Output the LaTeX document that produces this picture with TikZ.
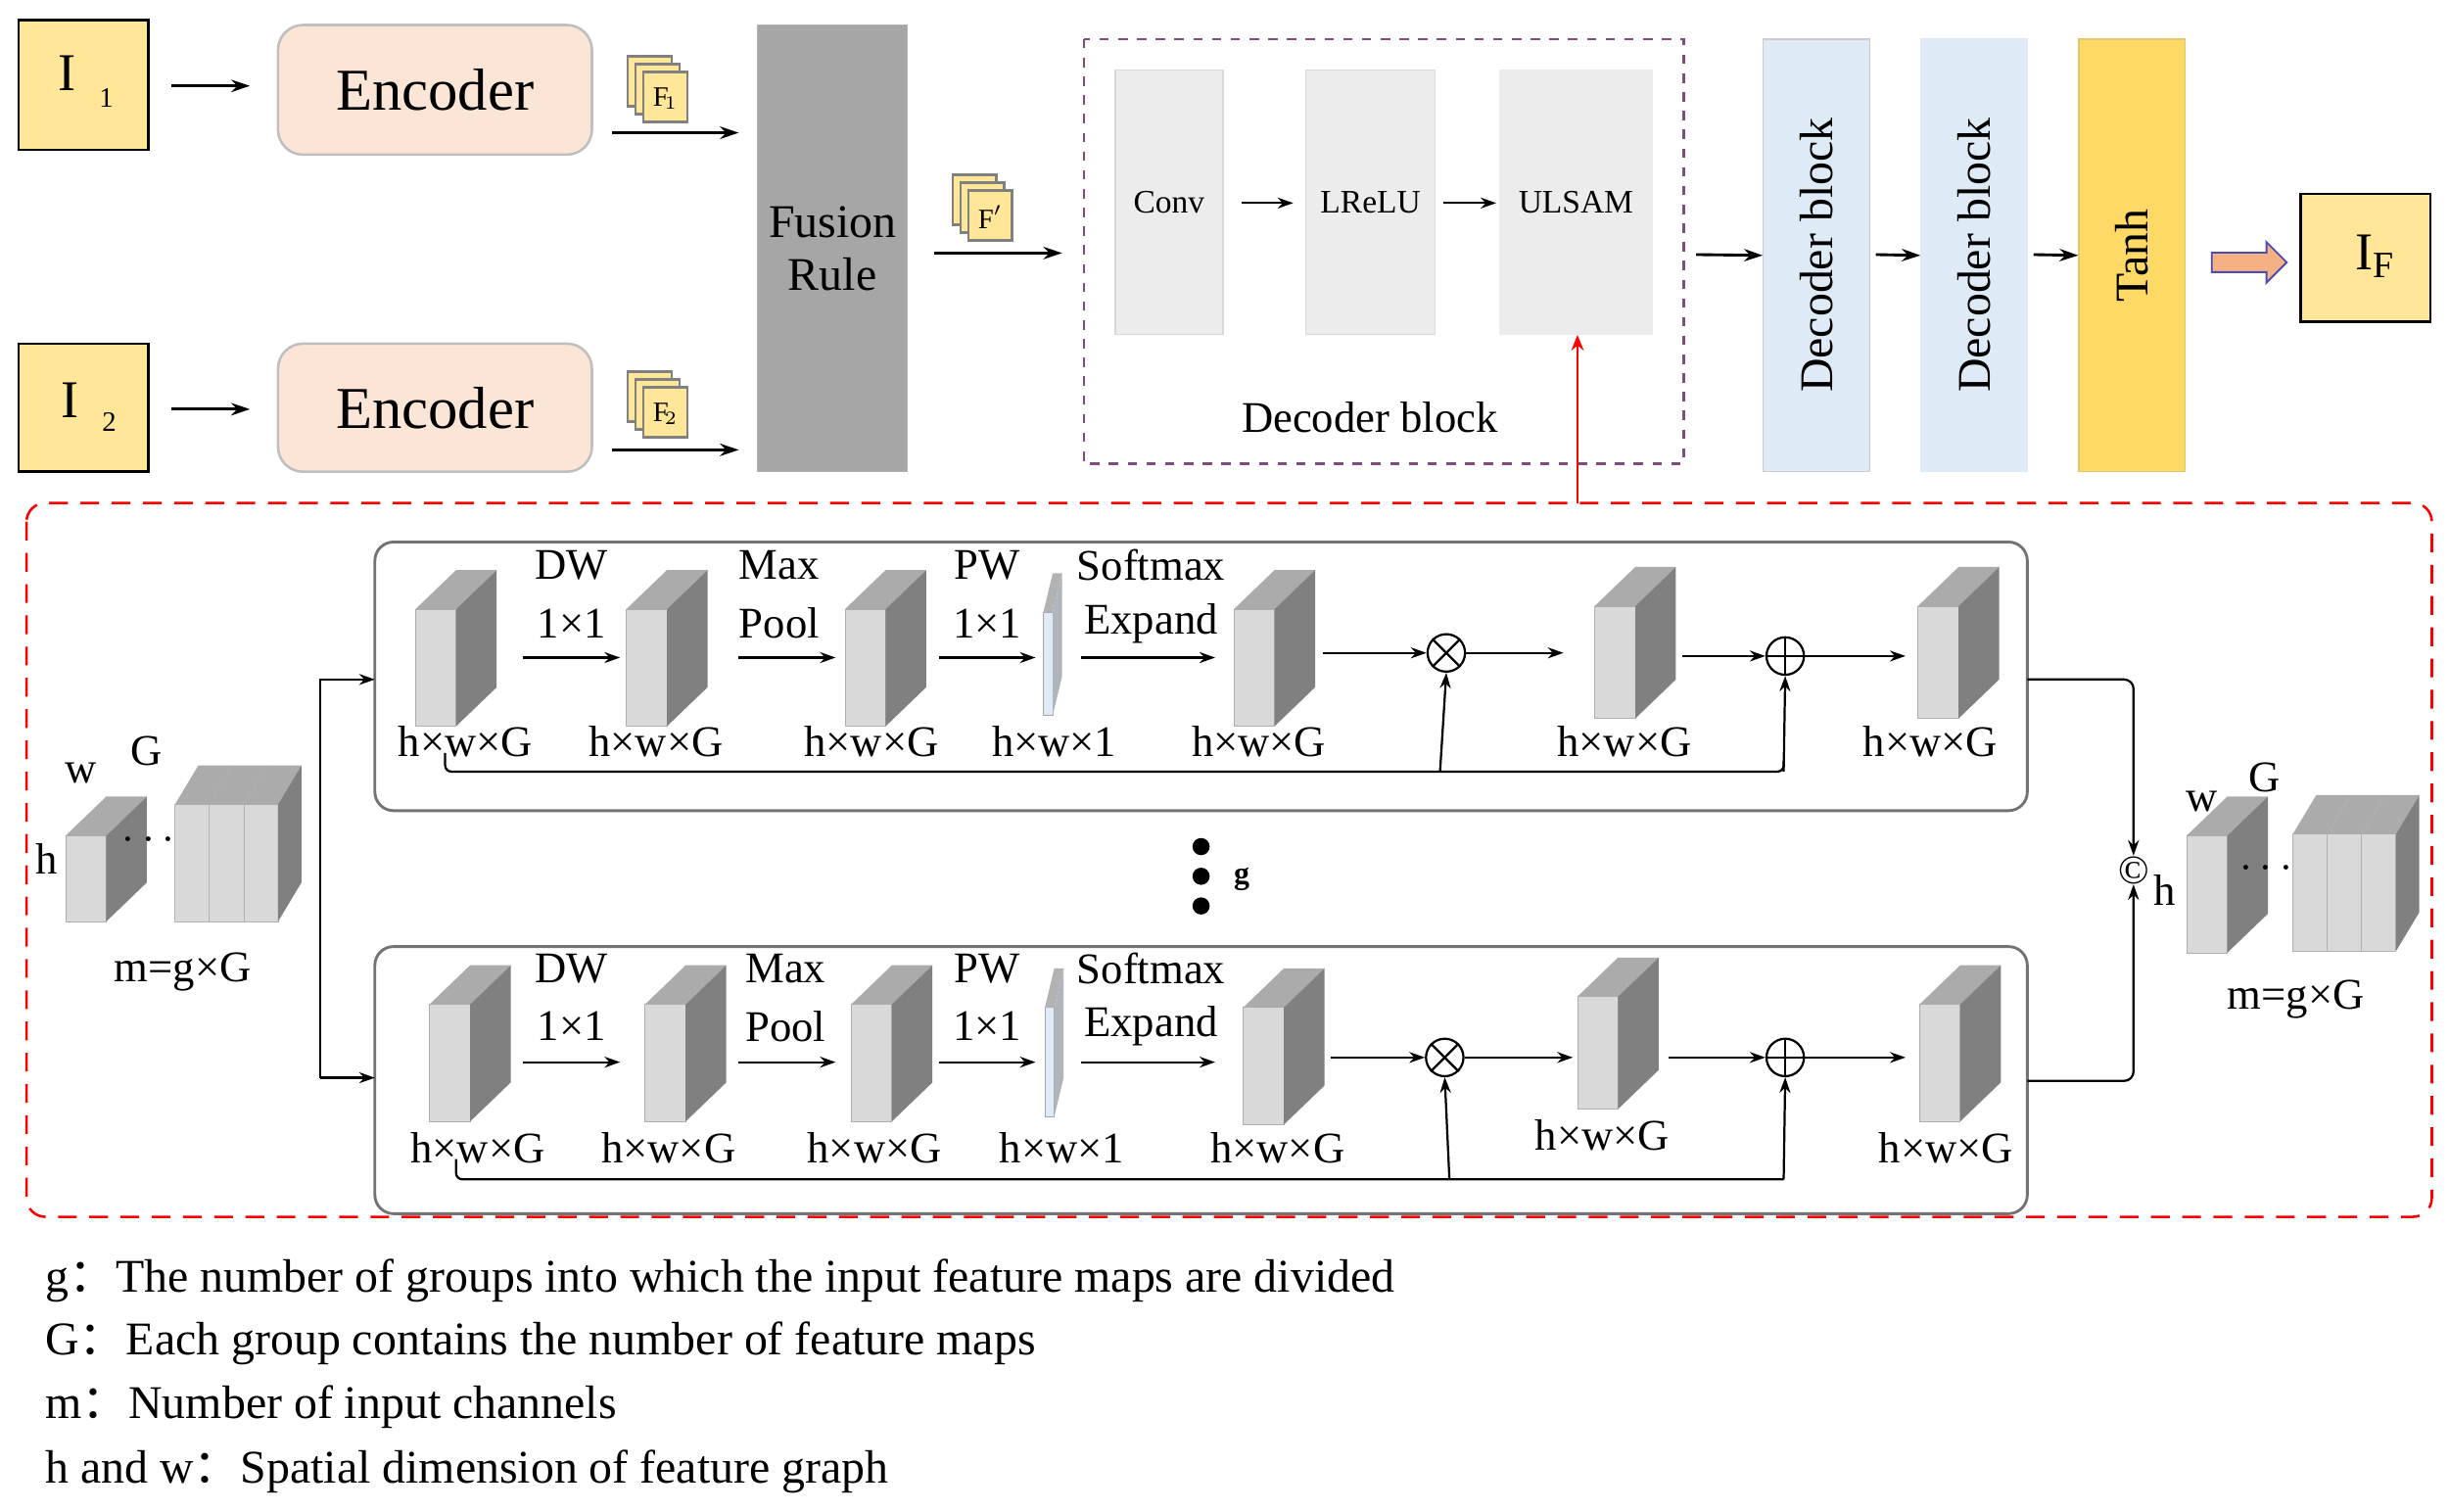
\documentclass[tikz,border=0pt]{standalone}
\usepackage{fontspec}
\setmainfont{Liberation Serif}
\newfontfamily\cjk{Noto Sans CJK SC}
\usetikzlibrary{arrows.meta,shapes.arrows}
\definecolor{inyel}{HTML}{FFE699}
\definecolor{encf}{HTML}{FBE5D6}
\definecolor{fus}{HTML}{A6A6A6}
\definecolor{decb}{HTML}{DEEBF7}
\definecolor{tanh}{HTML}{FFD966}
\definecolor{cf}{HTML}{D9D9D9}
\definecolor{cs}{HTML}{808080}
\definecolor{ct}{HTML}{ABABAB}
\definecolor{orar}{HTML}{F4B183}
\newcommand\mycube[6]{%
 \fill[cf,draw=cf!80!black,very thin] (#1,#2) rectangle (#1+#3,#2+#4);
 \fill[ct] (#1,#2) -- (#1+#5,#2-#6) -- (#1+#3+#5,#2-#6) -- (#1+#3,#2) -- cycle;
 \fill[cs] (#1+#3,#2) -- (#1+#3+#5,#2-#6) -- (#1+#3+#5,#2+#4-#6) -- (#1+#3,#2+#4) -- cycle;}
\newcommand\thincube[6]{%
 \fill[decb,draw=gray!70,very thin] (#1,#2) rectangle (#1+#3,#2+#4);
 \fill[gray!60] (#1,#2) -- (#1+#5,#2-#6) -- (#1+#3+#5,#2-#6) -- (#1+#3,#2) -- cycle;
 \fill[gray!50!decb] (#1+#3,#2) -- (#1+#3+#5,#2-#6) -- (#1+#3+#5,#2+#4-#6) -- (#1+#3,#2+#4) -- cycle;}
\newcommand\ficon[3]{%
 \foreach \k in {0,1,2}{\draw[gray,fill=inyel,line width=0.8pt] (#1+5*\k,#2+5*\k) rectangle ++(28,32);}
 \node[font=\fontsize{9}{9}\selectfont] at (#1+24,#2+27) {#3};}
\newcommand\stack[2]{%
 \foreach \k in {0,1,2}{\fill[cf,draw=gray!60,very thin] (#1+22*\k,#2) rectangle ++(22,75);}
 \fill[ct] (#1,#2) -- (#1+15,#2-25) -- (#1+81,#2-25) -- (#1+66,#2) -- cycle;
 \foreach \k in {1,2}{\draw[gray!60,very thin] (#1+22*\k,#2) -- ++(15,-25);}
 \fill[cs] (#1+66,#2) -- (#1+81,#2-25) -- (#1+81,#2+50) -- (#1+66,#2+75) -- cycle;}
\tikzset{x=0.5pt,y=-0.5pt,
 arr/.style={-{Stealth[length=6pt,width=4pt]},line width=0.9pt},
 sarr/.style={-{Stealth[length=5pt,width=3.5pt]},line width=0.7pt},
 big/.style={font=\fontsize{19}{21}\selectfont},
 lab/.style={font=\fontsize{14}{16}\selectfont},
 small/.style={font=\fontsize{10.5}{12}\selectfont},
 leg/.style={font=\fontsize{15}{16}\selectfont,anchor=west},
 ibox/.style={draw=black,line width=0.8pt,fill=inyel},
 grp/.style={draw=gray!90!black,line width=0.9pt,rounded corners=6pt}}
\newcommand\cc{{\cjk ：}}
\begin{document}
\begin{tikzpicture}
\useasboundingbox (0,0) rectangle (1568,968);
% top row
\node[ibox,minimum width=41.5pt,minimum height=41.5pt] (i1) at (53.5,54.5) {};
\node[font=\fontsize{17}{17}\selectfont] at (43,47) {I};
\node[font=\fontsize{9}{9}\selectfont] at (68,63) {1};
\node[ibox,minimum width=41.5pt,minimum height=41pt] (i2) at (53.5,261) {};
\node[font=\fontsize{17}{17}\selectfont] at (45,256) {I};
\node[font=\fontsize{9}{9}\selectfont] at (70,270) {2};
\node[draw=gray!50,line width=0.8pt,fill=encf,rounded corners=8pt,minimum width=100.5pt,minimum height=41.5pt,big] (e1) at (278.5,57.5) {Encoder};
\node[draw=gray!50,line width=0.8pt,fill=encf,rounded corners=8pt,minimum width=100.5pt,minimum height=41pt,big] (e2) at (278.5,261) {Encoder};
\draw[arr] (110,55) -- (160,55);
\draw[arr] (110,262) -- (160,262);
\ficon{402}{36}{F$_{\!1}$}
\ficon{402}{238}{F$_{\!2}$}
\ficon{610}{112}{F$'$}
\node[fill=fus,draw=gray!60,minimum width=48pt,minimum height=143pt,align=center,font=\fontsize{15}{17}\selectfont,inner sep=0pt] (fr) at (533,159) {Fusion\\Rule};
\draw[arr] (392,85) -- (473,85);
\draw[arr] (392,288) -- (473,288);
\draw[arr] (598,162) -- (680,162);
% decoder block detail
\draw[dashed,draw=violet!40!gray,line width=0.8pt] (694,25) rectangle (1078,297);
\node[fill=gray!15,draw=gray!30,minimum width=34.5pt,minimum height=84.5pt,small] (conv) at (748.5,129.5) {Conv};
\node[fill=gray!15,draw=gray!30,minimum width=41.5pt,minimum height=84.5pt,small] (lrelu) at (877.5,129.5) {LReLU};
\node[fill=gray!15,draw=gray!15,minimum width=49pt,minimum height=84.5pt,small] (ulsam) at (1009,129.5) {ULSAM};
\draw[sarr] (795,130) -- (828,130);
\draw[sarr] (924,130) -- (958,130);
\node[lab] at (877,267) {Decoder block};
\coordinate (rs) at (1010,322);
\draw[red,-{Stealth[length=5pt,width=4pt]},line width=0.7pt] (rs) -- (ulsam.south-|rs);
% decoders
\node[fill=decb,draw=gray!40,minimum width=34pt,minimum height=138.5pt] (d1) at (1163,163.5) {};
\node[rotate=90,font=\fontsize{15}{15}\selectfont] at (d1) {Decoder block};
\node[fill=decb,draw=decb,minimum width=34pt,minimum height=138.5pt] (d2) at (1264,163.5) {};
\node[rotate=90,font=\fontsize{15}{15}\selectfont] at (d2) {Decoder block};
\node[fill=tanh,draw=tanh!80!gray,minimum width=34pt,minimum height=138.5pt] (th) at (1365,163.5) {};
\node[rotate=90,font=\fontsize{15}{15}\selectfont] at (th) {Tanh};
\draw[arr] (1086,163) -- (d1.west);
\draw[arr] (1201,163) -- (d2.west);
\draw[arr] (1302,163) -- (th.west);
\node[ibox,minimum width=41.5pt,minimum height=41pt] (if) at (1514.5,165) {};
\node[font=\fontsize{17}{17}\selectfont] at (1521,164) {I$_{\mathrm{\scriptstyle F}}$};
\node[single arrow,fill=orar,draw=blue!40!gray,line width=0.6pt,minimum width=13pt,single arrow head extend=2.5pt,single arrow head indent=0pt,minimum height=24pt,inner sep=2pt] (oa) at (1437,168) {};
% ULSAM detail
\draw[red,dashed,line width=0.8pt,rounded corners=6pt,dash pattern=on 6pt off 4pt] (17,322) rectangle (1557,779);
\draw[grp] (240,347) rectangle (1298,519);
\draw[grp] (240,606) rectangle (1298,777);
% input
\mycube{42}{535}{26}{55}{26}{25}
\stack{112}{515}
\node[lab] at (52,495) {w};
\node[lab] at (94,481) {G};
\node[lab] at (30,550) {h};
\node[font=\fontsize{14}{14}\selectfont] at (95,538) {$\cdots$};
\node[lab] at (117,622) {m=g×G};
% output
\mycube{1400}{535}{26}{75}{26}{25}
\stack{1468}{534}
\node[lab] at (1410,513) {w};
\node[lab] at (1450,498) {G};
\node[lab] at (1386,570) {h};
\node[font=\fontsize{14}{14}\selectfont] at (1451,556) {$\cdots$};
\node[lab] at (1470,640) {m=g×G};
% row 1 cubes
\mycube{266}{390}{26}{75}{26}{25}
\mycube{401}{390}{26}{75}{26}{25}
\mycube{541}{390}{26}{75}{26}{25}
\thincube{668}{392}{6}{66}{6}{25}
\mycube{790}{390}{26}{75}{26}{25}
\mycube{1021}{388}{26}{72}{26}{25}
\mycube{1228}{388}{26}{72}{26}{25}
% row 2 cubes
\mycube{275}{643}{26}{75}{26}{25}
\mycube{413}{643}{26}{75}{26}{25}
\mycube{545}{643}{26}{75}{26}{25}
\thincube{669}{645}{6}{70}{6}{25}
\mycube{796}{645}{26}{75}{26}{25}
\mycube{1010}{638}{26}{72}{26}{25}
\mycube{1229}{643}{26}{75}{26}{25}
% row labels
\foreach \x/\t in {298/h×w×G,420/h×w×G,558/h×w×G,675/h×w×1,806/h×w×G,1040/h×w×G,1236/h×w×G}
 \node[lab] at (\x,475) {\t};
\foreach \x/\y/\t in {306/735/h×w×G,428/735/h×w×G,560/735/h×w×G,680/735/h×w×1,818/735/h×w×G,1026/727/h×w×G,1246/735/h×w×G}
 \node[lab] at (\x,\y) {\t};
\foreach \yy/\dx in {362/0,620/4}{
 \node[lab] at (366,\yy) {DW};
 \node[lab] at (366,\yy+37) {1×1};
 \node[lab] at (499+\dx,\yy) {Max};
 \node[lab] at (499+\dx,\yy+37) {Pool};
 \node[lab] at (632,\yy) {PW};
 \node[lab] at (632,\yy+37) {1×1};
 \node[lab] at (737,\yy) {Softmax};
 \node[lab] at (737,\yy+37) {Expand};}
\foreach \yy in {421,680}{
 \draw[sarr] (335,\yy) -- (397,\yy);
 \draw[sarr] (473,\yy) -- (535,\yy);
 \draw[sarr] (601,\yy) -- (663,\yy);
 \draw[sarr] (692,\yy) -- (778,\yy);}
% operators
\node[circle,draw,line width=0.7pt,inner sep=0pt,minimum size=12pt] (m1) at (926,418) {};
\draw[line width=0.7pt] (m1.north west) -- (m1.south east) (m1.north east) -- (m1.south west);
\node[circle,draw,line width=0.7pt,inner sep=0pt,minimum size=12pt] (p1) at (1143,420) {};
\draw[line width=0.7pt] (p1.north) -- (p1.south) (p1.west) -- (p1.east);
\node[circle,draw,line width=0.7pt,inner sep=0pt,minimum size=12pt] (m2) at (925,677) {};
\draw[line width=0.7pt] (m2.north west) -- (m2.south east) (m2.north east) -- (m2.south west);
\node[circle,draw,line width=0.7pt,inner sep=0pt,minimum size=12pt] (p2) at (1143,677) {};
\draw[line width=0.7pt] (p2.north) -- (p2.south) (p2.west) -- (p2.east);
\draw[sarr] (847,418) -- (m1);
\draw[sarr] (m1) -- (1001,418);
\draw[sarr] (1077,420) -- (p1);
\draw[sarr] (p1) -- (1220,420);
\draw[sarr] (852,677) -- (m2);
\draw[sarr] (m2) -- (1007,677);
\draw[sarr] (1068,677) -- (p2);
\draw[sarr] (p2) -- (1220,677);
% skip lines
\draw[line width=0.7pt,rounded corners=2pt] (285,482) -- (285,494) -- (1142,494) -- (1142,487);
\draw[sarr] (922,494) -- (m1.south);
\draw[sarr] (1142,494) -- (p1.south);
\draw[line width=0.7pt,rounded corners=2pt] (292,742) -- (292,755) -- (1142,755);
\draw[sarr] (928,755) -- (m2.south);
\draw[sarr] (1142,755) -- (p2.south);
% branch
\draw[sarr] (205,690) -- (205,435) -- (240,435);
\draw[sarr] (205,690) -- (240,690);
\node[font=\fontsize{13}{13}\selectfont,inner sep=0pt] (cc) at (1366,557) {©};
\draw[sarr,rounded corners=3pt] (1298,435) -- (1366,435) -- (cc.north);
\draw[sarr,rounded corners=3pt] (1298,692) -- (1366,692) -- (cc.south);
% middle dots
\foreach \yy in {542,561,580} \fill (769,\yy) circle (5.5);
\node[font=\fontsize{10}{10}\selectfont\bfseries] at (795,563) {g};
% legend
\node[leg] at (22,820) {g\cc The number of groups into which the input feature maps are divided};
\node[leg] at (22,860) {G\cc Each group contains the number of feature maps};
\node[leg] at (22,901) {m\cc Number of input channels};
\node[leg] at (22,942) {h and w\cc Spatial dimension of feature graph};
\end{tikzpicture}
\end{document}
